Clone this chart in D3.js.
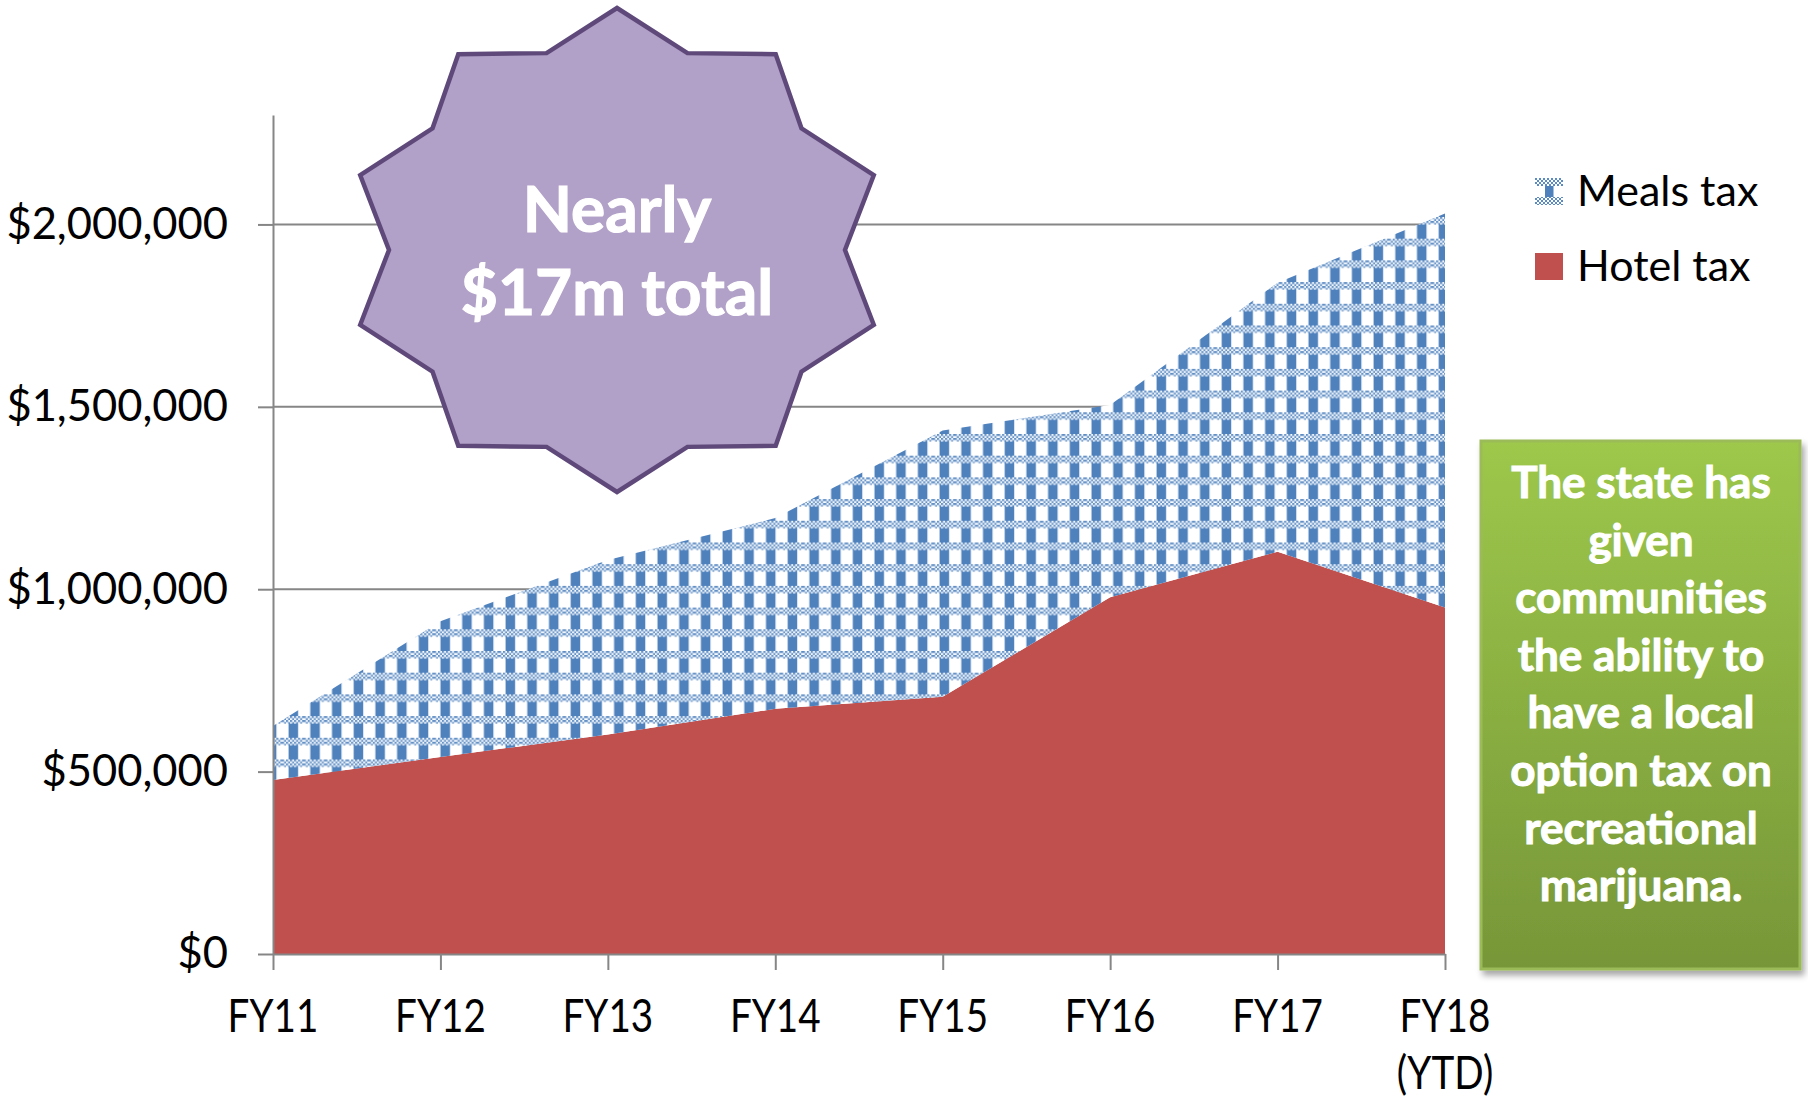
<!DOCTYPE html>
<html>
<head>
<meta charset="utf-8">
<script src="https://cdn.jsdelivr.net/npm/d3@7"></script>
<style>
  body { margin: 0; background: #fff; }
  svg { display: block; font-family: Lato, "Open Sans", sans-serif; }
</style>
</head>
<body>
<svg width="1808" height="1098"></svg>
<script>
// fiscal years and tax revenue
var years = ["FY11", "FY12", "FY13", "FY14", "FY15", "FY16", "FY17", "FY18"];
var yearLabels = [["FY11"], ["FY12"], ["FY13"], ["FY14"], ["FY15"], ["FY16"], ["FY17"], ["FY18", "(YTD)"]];
var hotelTax = [477000, 540000, 602000, 672000, 705000, 978000, 1103000, 950000];
var mealsTax = [148000, 372000, 478000, 523000, 730000, 527000, 737000, 1080000];
var yTicks = [0, 500000, 1000000, 1500000, 2000000];
var seriesNames = ["Meals tax", "Hotel tax"];
var boxLines = ["The state has", "given", "communities", "the ability to", "have a local", "option tax on", "recreational", "marijuana."];
var starLines = ["Nearly", "$17m total"];

var svg = d3.select("svg");
var defs = svg.append("defs");

// weave-like pattern used by the meals series
var dots = defs.append("pattern")
    .attr("id", "dots")
    .attr("patternUnits", "userSpaceOnUse")
    .attr("width", 4).attr("height", 4);
dots.append("rect").attr("width", 4).attr("height", 4).attr("fill", "#fff");
dots.append("rect").attr("width", 2).attr("height", 2).attr("fill", "#5b8bc4");
dots.append("rect").attr("x", 2).attr("y", 2).attr("width", 2).attr("height", 2).attr("fill", "#5b8bc4");

var weave = defs.append("pattern")
    .attr("id", "weave")
    .attr("patternUnits", "userSpaceOnUse")
    .attr("width", 21.7).attr("height", 21.7);
weave.append("rect").attr("width", 21.7).attr("height", 21.7).attr("fill", "#fff");
weave.append("rect").attr("x", 6.5).attr("width", 9.5).attr("height", 21.7).attr("fill", "#4f81bd");
weave.append("rect").attr("y", 0).attr("width", 21.7).attr("height", 7.5).attr("fill", "url(#dots)");

var grad = defs.append("linearGradient")
    .attr("id", "greenGrad")
    .attr("x1", 0).attr("y1", 0).attr("x2", 0).attr("y2", 1);
grad.append("stop").attr("offset", "0%").attr("stop-color", "#9dc84b");
grad.append("stop").attr("offset", "100%").attr("stop-color", "#779638");

var shadow = defs.append("filter").attr("id", "shadow")
    .attr("x", "-10%").attr("y", "-10%").attr("width", "130%").attr("height", "130%");
shadow.append("feDropShadow")
    .attr("dx", 3).attr("dy", 5).attr("stdDeviation", 3)
    .attr("flood-color", "#000").attr("flood-opacity", 0.35);

var x = d3.scalePoint().domain(years).range([273, 1445]);
var y = d3.scaleLinear().domain([0, 2300000]).range([954, 115]);

var data = years.map(function(d, i) {
  return { year: d, hotel: hotelTax[i], meals: mealsTax[i] };
});
var stack = d3.stack().keys(["hotel", "meals"]);
var layers = stack(data);

// gridlines
svg.append("g").selectAll("line")
    .data(yTicks.slice(1))
    .enter().append("line")
    .attr("x1", 273).attr("x2", 1445)
    .attr("y1", function(d) { return y(d); })
    .attr("y2", function(d) { return y(d); })
    .attr("stroke", "#868686").attr("stroke-width", 2);

var area = d3.area()
    .x(function(d) { return x(d.data.year); })
    .y0(function(d) { return y(d[0]); })
    .y1(function(d) { return y(d[1]); });

var fills = { hotel: "#c0504d", meals: "url(#weave)" };
svg.append("g").selectAll("path")
    .data(layers)
    .enter().append("path")
    .attr("d", area)
    .attr("fill", function(d) { return fills[d.key]; });

// y axis
var yAxis = svg.append("g")
    .attr("transform", "translate(273,0)")
    .call(d3.axisLeft(y)
      .tickValues(yTicks)
      .tickFormat(function(d) { return "$" + d3.format(",")(d); })
      .tickSize(15)
      .tickSizeOuter(0)
      .tickPadding(30));
yAxis.select(".domain").attr("stroke", "#868686").attr("stroke-width", 2);
yAxis.selectAll(".tick line").attr("stroke", "#868686").attr("stroke-width", 2);
yAxis.selectAll(".tick text")
    .attr("font-family", "Lato")
    .attr("font-size", 43.5)
    .attr("fill", "#000");

// x axis
var xAxis = svg.append("g")
    .attr("transform", "translate(0,954)")
    .call(d3.axisBottom(x).tickSize(16).tickSizeOuter(0).tickFormat(""));
xAxis.select(".domain").attr("stroke", "#868686").attr("stroke-width", 2);
xAxis.selectAll(".tick line").attr("stroke", "#868686").attr("stroke-width", 2);

var xl = svg.append("g").selectAll("g")
    .data(years)
    .enter().append("g")
    .attr("transform", function(d) { return "translate(" + x(d) + ",0) scale(0.84,1)"; });
xl.each(function(d, i) {
  var g = d3.select(this);
  yearLabels[i].forEach(function(t, j) {
    g.append("text")
        .attr("y", 1032 + j * 57)
        .attr("text-anchor", "middle")
        .attr("font-size", 46)
        .attr("fill", "#000")
        .text(t);
  });
});

// legend
var legend = svg.append("g").attr("transform", "translate(1535,178)");
legend.append("rect").attr("width", 28).attr("height", 27).attr("fill", "#fff");
legend.append("rect").attr("x", 10).attr("width", 8.5).attr("height", 27).attr("fill", "#4f81bd");
legend.append("rect").attr("width", 28).attr("height", 8).attr("fill", "url(#dots)");
legend.append("rect").attr("y", 19).attr("width", 28).attr("height", 8).attr("fill", "url(#dots)");
legend.append("rect").attr("y", 75).attr("width", 28).attr("height", 27).attr("fill", "#c0504d");
legend.selectAll("text")
    .data(seriesNames)
    .enter().append("text")
    .attr("x", 42)
    .attr("y", function(d, i) { return 28 + i * 75; })
    .attr("font-size", 43)
    .attr("fill", "#000")
    .text(function(d) { return d; });

// star callout
var cx = 617, cy = 250;
var starPts = d3.range(20).map(function(k) {
  var a = k * Math.PI / 10;
  var rx = k % 2 === 0 ? 270 : 228, ry = k % 2 === 0 ? 242 : 207;
  return [cx + rx * Math.sin(a), cy - ry * Math.cos(a)];
});
svg.append("path")
    .attr("d", "M" + starPts.join("L") + "Z")
    .attr("fill", "#b1a0c7")
    .attr("stroke", "#5f497a")
    .attr("stroke-width", 4.5)
    .attr("stroke-linejoin", "miter");
svg.append("g").selectAll("text")
    .data(starLines)
    .enter().append("text")
    .attr("x", cx)
    .attr("y", function(d, i) { return 232 + i * 83; })
    .attr("text-anchor", "middle")
    .attr("font-size", 64)
    .attr("font-weight", "bold")
    .attr("fill", "#fff")
    .attr("stroke", "#fff")
    .attr("stroke-width", 1.2)
    .text(function(d) { return d; });

// green note box
svg.append("rect")
    .attr("x", 1481).attr("y", 441)
    .attr("width", 319).attr("height", 528)
    .attr("fill", "url(#greenGrad)")
    .attr("stroke", "#9bbb59")
    .attr("stroke-width", 3)
    .attr("filter", "url(#shadow)");
svg.append("g").selectAll("text")
    .data(boxLines)
    .enter().append("text")
    .attr("x", 1641)
    .attr("y", function(d, i) { return 498 + i * 57.6; })
    .attr("text-anchor", "middle")
    .attr("font-size", 44)
    .attr("font-weight", "bold")
    .attr("fill", "#fff")
    .attr("stroke", "#fff")
    .attr("stroke-width", 1)
    .text(function(d) { return d; });
</script>
</body>
</html>
